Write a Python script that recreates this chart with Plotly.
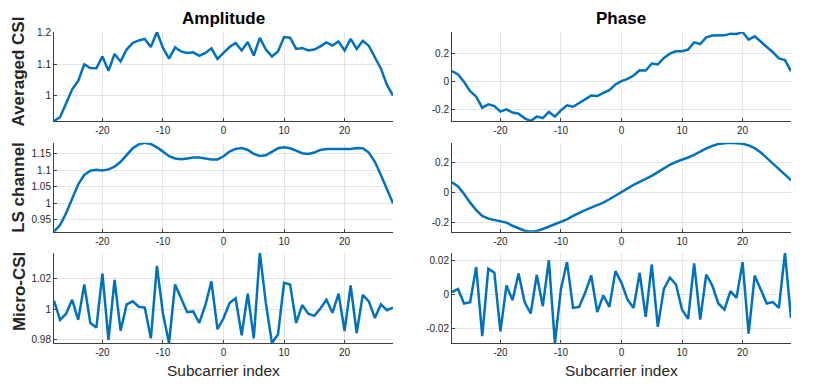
import plotly.graph_objects as go

# subcarrier index -28..28
subcarriers = list(range(-28, 29))

avg_amp = [0.919, 0.931, 0.975, 1.020, 1.047, 1.100, 1.088, 1.087, 1.125, 1.079,
           1.133, 1.109, 1.147, 1.168, 1.176, 1.181, 1.155, 1.203, 1.152, 1.118,
           1.154, 1.141, 1.136, 1.138, 1.127, 1.136, 1.151, 1.117, 1.136, 1.155,
           1.168, 1.144, 1.171, 1.128, 1.184, 1.147, 1.125, 1.141, 1.187, 1.185,
           1.149, 1.152, 1.144, 1.147, 1.157, 1.170, 1.160, 1.173, 1.144, 1.181,
           1.149, 1.175, 1.159, 1.120, 1.086, 1.034, 1.000]

avg_phase = [0.076, 0.052, -0.002, -0.067, -0.107, -0.186, -0.162, -0.174, -0.214, -0.198,
             -0.221, -0.229, -0.262, -0.281, -0.250, -0.260, -0.217, -0.250, -0.205, -0.169,
             -0.179, -0.155, -0.126, -0.098, -0.102, -0.079, -0.060, -0.019, 0.005, 0.021,
             0.045, 0.083, 0.081, 0.131, 0.124, 0.171, 0.202, 0.219, 0.219, 0.231,
             0.283, 0.271, 0.319, 0.331, 0.333, 0.333, 0.345, 0.343, 0.357, 0.302,
             0.326, 0.290, 0.248, 0.212, 0.167, 0.155, 0.076]

ls_amp = [0.914, 0.934, 0.970, 1.015, 1.058, 1.086, 1.099, 1.102, 1.100, 1.103,
          1.111, 1.126, 1.146, 1.167, 1.179, 1.184, 1.180, 1.170, 1.157, 1.143,
          1.136, 1.134, 1.136, 1.139, 1.139, 1.136, 1.133, 1.133, 1.143, 1.157,
          1.165, 1.168, 1.162, 1.150, 1.144, 1.146, 1.157, 1.167, 1.170, 1.167,
          1.160, 1.152, 1.150, 1.154, 1.162, 1.165, 1.165, 1.165, 1.163, 1.165,
          1.168, 1.167, 1.154, 1.126, 1.086, 1.042, 1.000]

ls_phase = [0.070, 0.041, -0.009, -0.068, -0.118, -0.158, -0.176, -0.185, -0.192, -0.203,
            -0.224, -0.242, -0.258, -0.264, -0.260, -0.246, -0.231, -0.215, -0.201, -0.181,
            -0.158, -0.136, -0.118, -0.102, -0.086, -0.068, -0.045, -0.020, 0.005, 0.029,
            0.052, 0.072, 0.090, 0.113, 0.138, 0.165, 0.188, 0.208, 0.221, 0.237,
            0.255, 0.278, 0.298, 0.316, 0.328, 0.334, 0.337, 0.334, 0.330, 0.319,
            0.300, 0.271, 0.233, 0.194, 0.158, 0.120, 0.084]

micro_amp = [1.0055, 0.993, 0.997, 1.006, 0.993, 1.016, 0.991, 0.988, 1.023, 0.980,
             1.019, 0.986, 1.003, 1.005, 1.0015, 1.001, 0.981, 1.028, 0.997, 0.978,
             1.016, 1.007, 0.998, 0.9985, 0.991, 1.0025, 1.018, 0.987, 0.994, 1.004,
             1.007, 0.983, 1.010, 0.981, 1.0365, 1.0037, 0.978, 0.9836, 1.017, 1.016,
             0.991, 1.0026, 0.997, 0.9956, 1.0004, 1.006, 0.9976, 1.010, 0.9858, 1.0153,
             0.9845, 1.0092, 1.005, 0.9943, 1.003, 0.9993, 1.001]

micro_phase = [0.0014, 0.0033, -0.0053, -0.0045, 0.0162, -0.0246, 0.0152, 0.0128, -0.0217, 0.0053,
               -0.0033, 0.0124, -0.0045, -0.0112, 0.0116, -0.0069, 0.0203, -0.0286, 0.0033, 0.0191,
               -0.0079, -0.0073, 0.0010, 0.0112, -0.0104, -0.0006, -0.0073, 0.0138, 0.0069, -0.0030,
               -0.0079, 0.0128, -0.0132, 0.0177, -0.0191, 0.0033, 0.0099, 0.0059, -0.0089, -0.0144,
               0.0183, -0.0148, 0.0118, 0.0053, -0.0053, -0.0089, 0.0020, -0.0020, 0.0191, -0.0231,
               0.0112, 0.0033, -0.0053, -0.0045, -0.0079, 0.0246, -0.0138]

x_ticks = [-20, -10, 0, 10, 20]
col_titles = ["Amplitude", "Phase"]
row_titles = ["Averaged CSI", "LS channel", "Micro-CSI"]
x_title = "Subcarrier index"

# (series, y tick values, y tick labels) per panel, row-major
panels = [
    (avg_amp, [1, 1.1, 1.2], ["1", "1.1", "1.2"]),
    (avg_phase, [-0.2, 0, 0.2], ["-0.2", "0", "0.2"]),
    (ls_amp, [0.95, 1, 1.05, 1.1, 1.15], ["0.95", "1", "1.05", "1.1", "1.15"]),
    (ls_phase, [-0.2, 0, 0.2], ["-0.2", "0", "0.2"]),
    (micro_amp, [0.98, 1, 1.02], ["0.98", "1", "1.02"]),
    (micro_phase, [-0.02, 0, 0.02], ["-0.02", "0", "0.02"]),
]

BLUE = "#0072BD"
FONT = "Liberation Sans, Arial, Helvetica, sans-serif"
col_dom = [[0, 0.46], [0.54, 1.0]]
row_dom = [[0.714, 1.0], [0.358, 0.644], [0.0, 0.29]]
row_label_y = [0.873, 0.502, 0.167]

fig = go.Figure()
layout = {}
for k, (ys, yt, ytl) in enumerate(panels):
    r, c = divmod(k, 2)
    n = k + 1
    sfx = "" if n == 1 else str(n)
    fig.add_trace(go.Scatter(x=subcarriers, y=ys, mode="lines",
                             line=dict(color=BLUE, width=2.5),
                             xaxis="x" + sfx, yaxis="y" + sfx,
                             showlegend=False, hoverinfo="skip"))
    common = dict(showline=True, linecolor="#404040", linewidth=1,
                  ticks="inside", ticklen=3, tickcolor="#404040",
                  showgrid=True, gridcolor="#e4e4e4", gridwidth=1,
                  zeroline=False, mirror=False,
                  tickfont=dict(family=FONT, size=10, color="#262626"))
    layout["xaxis" + sfx] = dict(common, domain=col_dom[c], anchor="y" + sfx,
                                 range=[subcarriers[0], subcarriers[-1]],
                                 tickvals=x_ticks, ticktext=[str(v) for v in x_ticks])
    layout["yaxis" + sfx] = dict(common, domain=row_dom[r], anchor="x" + sfx,
                                 range=[min(ys), max(ys)],
                                 tickvals=yt, ticktext=ytl)

ann = []
for c, t in enumerate(col_titles):
    ann.append(dict(text="<b>%s</b>" % t, x=sum(col_dom[c]) / 2, y=1.045,
                    xref="paper", yref="paper", showarrow=False,
                    xanchor="center", yanchor="middle",
                    font=dict(family=FONT, size=17, color="black")))
    ann.append(dict(text=x_title, x=sum(col_dom[c]) / 2, y=-0.087,
                    xref="paper", yref="paper", showarrow=False,
                    xanchor="center", yanchor="middle",
                    font=dict(family=FONT, size=15.5, color="#262626")))
for r, t in enumerate(row_titles):
    ann.append(dict(text="<b>%s</b>" % t, x=-0.0475, y=row_label_y[r],
                    xref="paper", yref="paper", showarrow=False, textangle=-90,
                    xanchor="center", yanchor="middle",
                    font=dict(family=FONT, size=17, color="#262626")))

# the page body adds an 8px offset, so the figure is 8px smaller on each side
fig.update_layout(width=822, height=378, margin=dict(l=46, r=39, t=24, b=43),
                  paper_bgcolor="white", plot_bgcolor="white",
                  annotations=ann, **layout)

fig.write_html("out.html")
